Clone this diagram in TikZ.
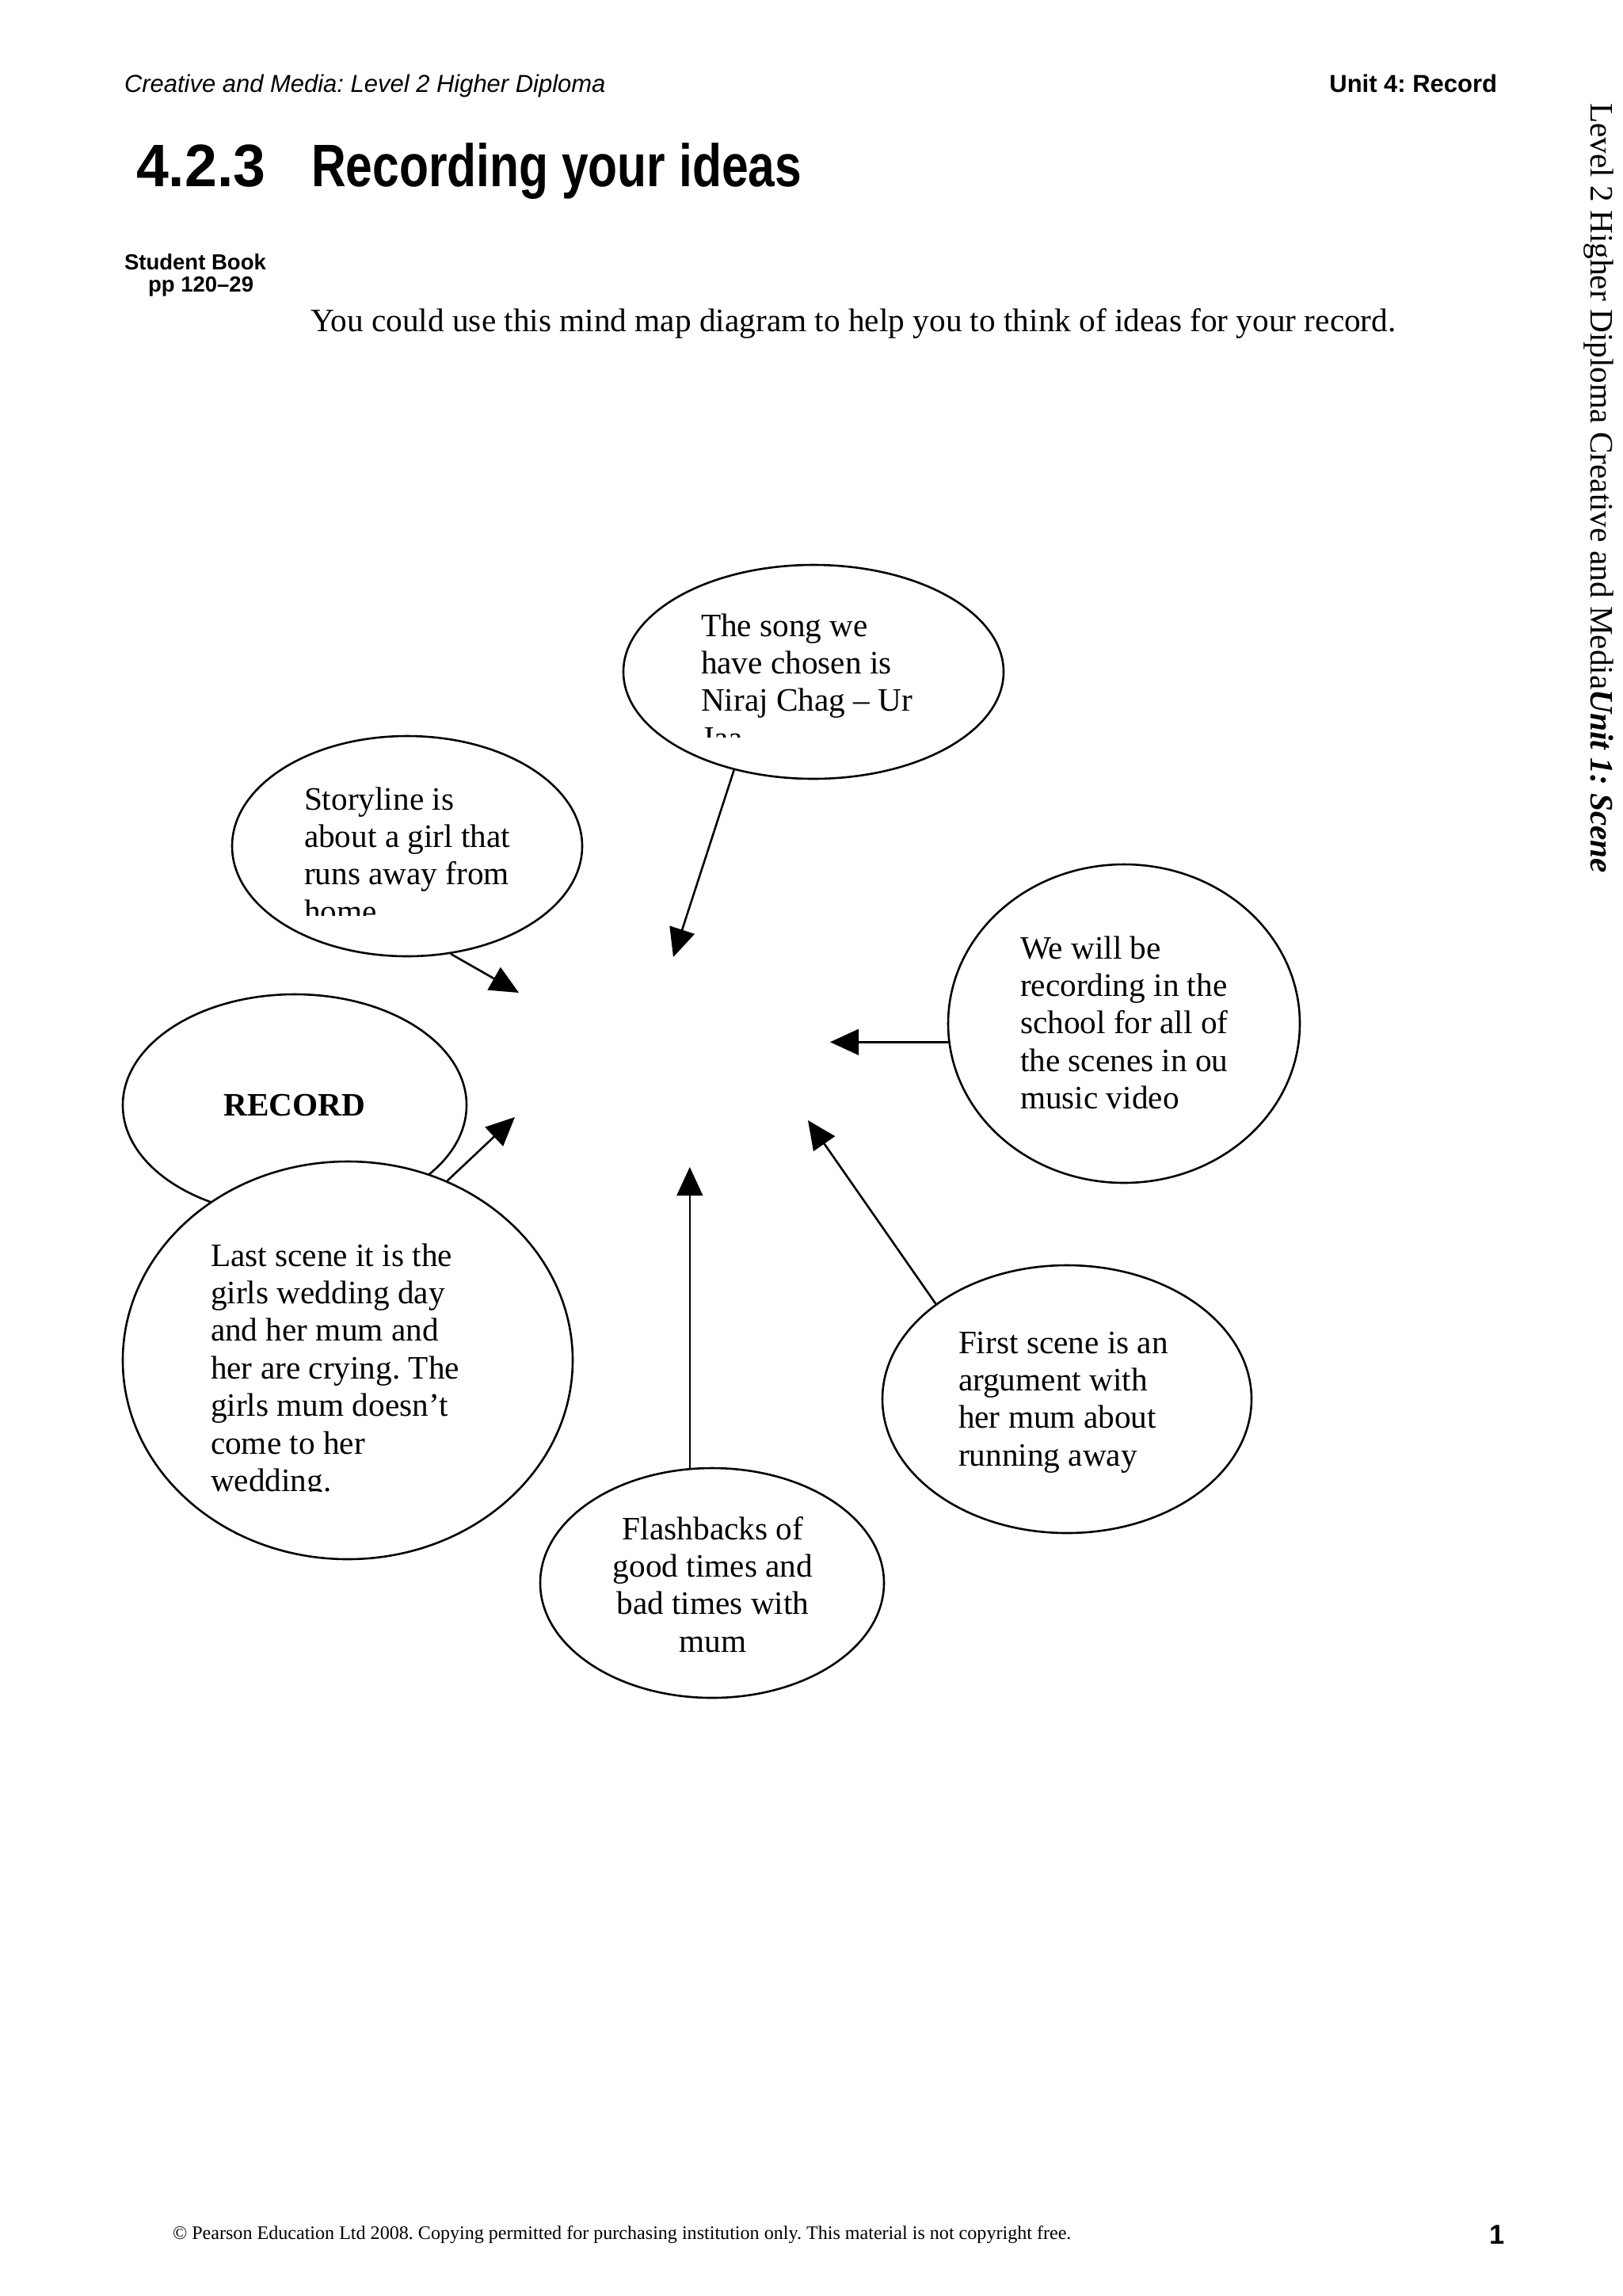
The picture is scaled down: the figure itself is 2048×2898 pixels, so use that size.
\documentclass[tikz,border=0pt]{standalone}
\usepackage{fontspec}
\setmainfont{Liberation Serif}
\newfontfamily\arialfont{Liberation Sans}
\usepackage{graphicx}
\usetikzlibrary{shapes.geometric,arrows.meta}
\frenchspacing
\tikzset{
  bubble/.style={draw, ellipse, line width=0.75pt, fill=white, inner sep=0pt},
  ell/.style n args={2}{minimum width=#1*0.581326pt, minimum height=#2*0.581326pt},
  conn/.style={line width=0.75pt, -{Triangle[width=9.5pt,length=10.5pt]}},
  plain/.style={inner sep=0pt, outer sep=0pt},
  hdr/.style={plain, font=\arialfont\fontsize{9}{11}\selectfont},
  ttl/.style={plain, font=\arialfont\bfseries\fontsize{22}{26}\selectfont},
  small/.style={plain, font=\arialfont\bfseries\fontsize{8}{9.5}\selectfont},
  bodytxt/.style={plain, anchor=base west, font=\fontsize{12}{13.8}\selectfont},
}
\newcommand{\bubbletext}[1]{\parbox[t]{100mm}{\frenchspacing\raggedright\fontsize{12}{13.8}\selectfont #1}}
\newcommand{\bubblecenter}[1]{\parbox[t]{100pt}{\frenchspacing\centering\fontsize{12}{13.8}\selectfont #1}}
\begin{document}
\begin{tikzpicture}[x=0.290663pt,y=-0.290663pt]
\fill[white] (0,0) rectangle (2048,2898);
\useasboundingbox (0,0) rectangle (2048,2898);

% header
\node[hdr, anchor=base west] (hleft) at (157,116) {\itshape Creative and Media: Level 2 Higher Diploma};
\node[hdr, anchor=base east] (hright) at (1890,116) {\bfseries Unit 4: Record};
\node[ttl, anchor=base west] (tnum) at (172,235) {\scalebox{0.97}[1]{4.2.3}};
\node[ttl, anchor=base west] (ttext) at (393,235) {\scalebox{0.8}[1]{Recording your ideas}};
\node[small, anchor=base west] (sb1) at (157,340) {Student Book};
\node[small, anchor=base west] (sb2) at (187,368) {pp 120–29};
\node[bodytxt] (intro) at (392,418) {You could use this mind map diagram to help you to think of ideas for your record.};

% side text
\node[plain, rotate=-90, anchor=base west, font=\fontsize{12}{14}\selectfont] (side) at (2008,130)
  {Level 2 Higher Diploma Creative and Media\textbf{\textit{Unit 1: Scene}}};

% bubbles
\node[bubble, ell={221}{139}] (story) at (514,1068) {};
\node[bubble, ell={240}{135}] (song) at (1027,848) {};
\node[bubble, ell={217}{140}, font=\bfseries\fontsize{12}{14}\selectfont] (rec) at (372,1395) {RECORD};
\node[bubble, ell={284}{251}] (last) at (439,1717) {};
\node[bubble, ell={222}{201}] (we) at (1419,1292) {};
\node[bubble, ell={233}{169}] (first) at (1347,1766) {};
\node[bubble, ell={217}{145}] (flash) at (899,1998) {};

% connectors
\coordinate (tipA) at (850,1208);
\coordinate (tipB) at (655,1253);
\coordinate (tipC) at (1048,1316);
\coordinate (tipD) at (1020,1414);
\coordinate (tipE) at (872,1473);
\coordinate (tipF) at (650,1410);
\draw[conn] (song.231) -- (tipA);
\draw[conn] (story.292) -- (tipB);
\draw[conn] (we.186) -- (we.186 -| tipC);
\draw[conn] (first.144) -- (tipD);
\draw[conn] (flash.101) -- (flash.101 |- tipE);
\draw[conn] (last.61) -- (tipF);

% bubble texts
\begin{scope}
\clip (860,760) rectangle (1240,930);
\node[plain, anchor=base west] (songtxt) at (885,803) {\bubbletext{The song we\\have chosen is\\Niraj Chag – Ur\\Jaa}};
\end{scope}
\begin{scope}
\clip (360,980) rectangle (720,1155);
\node[plain, anchor=base west] (storytxt) at (384,1022) {\bubbletext{Storyline is\\about a girl that\\runs away from\\home}};
\end{scope}
\begin{scope}
\clip (240,1550) rectangle (690,1882);
\node[plain, anchor=base west] (lasttxt) at (266,1598) {\bubbletext{Last scene it is the\\girls wedding day\\and her mum and\\her are crying. The\\girls mum doesn’t\\come to her\\wedding.}};
\end{scope}
\node[plain, anchor=base west] (wetxt) at (1288,1210) {\bubbletext{We will be\\recording in the\\school for all of\\the scenes in ou\\music video}};
\node[plain, anchor=base west] (firsttxt) at (1210,1708) {\bubbletext{First scene is an\\argument with\\her mum about\\running away}};
\node[plain, anchor=base] (flashtxt) at (900,1943) {\bubblecenter{Flashbacks of\\good times and\\bad times with\\mum}};

% footer
\node[plain, anchor=base west, font=\fontsize{7}{8.5}\selectfont] (foot) at (218,2826)
  {© Pearson Education Ltd 2008. Copying permitted for purchasing institution only. This material is not copyright free.};
\node[plain, anchor=base west, font=\arialfont\bfseries\fontsize{10}{12}\selectfont] (pnum) at (1880,2832) {1};
\end{tikzpicture}
\end{document}
